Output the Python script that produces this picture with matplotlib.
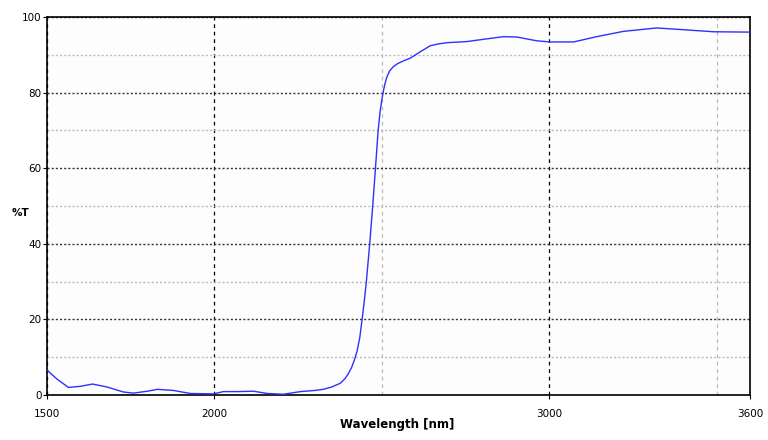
import numpy as np
import matplotlib
matplotlib.use('Agg')
from matplotlib import pyplot as plt

# transmission curve
wavelength = [1500, 1530, 1564, 1600, 1636, 1680, 1728, 1758, 1800, 1830, 1878, 1928,
              1997, 2027, 2070, 2117, 2158, 2206, 2257, 2300, 2325, 2350, 2376, 2390,
              2400, 2410, 2418, 2426, 2434, 2441, 2448, 2454, 2464, 2473, 2481, 2489,
              2495, 2500, 2505, 2510, 2516, 2524, 2535, 2548, 2565, 2585, 2615, 2645,
              2670, 2695, 2754, 2804, 2864, 2904, 2963, 3003, 3073, 3142, 3222, 3321,
              3391, 3490, 3600]
transmission = [6.6, 4.2, 2.0, 2.3, 2.9, 2.1, 0.8, 0.5, 1.0, 1.5, 1.2, 0.4,
                0.3, 0.9, 0.9, 1.0, 0.4, 0.2, 0.9, 1.2, 1.5, 2.1, 3.1, 4.3,
                5.6, 7.3, 9.2, 11.5, 15.0, 19.8, 25.0, 30.0, 40.0, 50.0, 59.8, 69.8,
                75.0, 78.0, 80.5, 82.5, 84.3, 85.8, 86.9, 87.7, 88.4, 89.1, 90.8, 92.4,
                92.9, 93.2, 93.5, 94.1, 94.8, 94.7, 93.7, 93.4, 93.4, 94.8, 96.2, 97.1,
                96.7, 96.1, 96.0]

x_ticks = [1500, 2000, 3000, 3600]
x_minor = [2500, 3500]
y_ticks = [0, 20, 40, 60, 80, 100]
y_minor = [10, 30, 50, 70, 90]

plt.rcParams['font.family'] = ['Liberation Sans Narrow', 'DejaVu Sans']

fig = plt.figure(figsize=(7.68, 4.4), dpi=100)
ax = fig.add_axes([47/768, 1 - 395/440, 703/768, 378/440])
ax.set_facecolor('#fdfdfd')

ax.plot(wavelength, transmission, color='#3030ff', linewidth=1.0, zorder=3)

ax.set_xlim(1500, 3600)
ax.set_ylim(0, 100)
ax.set_xticks(x_ticks)
ax.set_xticks(x_minor, minor=True)
ax.set_yticks(y_ticks)
ax.set_yticks(y_minor, minor=True)

ax.grid(which='major', axis='x', color='black', linestyle=(0, (3, 3)), linewidth=0.9)
ax.grid(which='major', axis='y', color='#333333', linestyle=(0, (1.5, 1.5)), linewidth=1.0)
ax.grid(which='minor', axis='x', color='#bbbbbb', linestyle=(0, (3, 3)), linewidth=0.9)
ax.grid(which='minor', axis='y', color='#bbbbbb', linestyle=(0, (1.5, 1.5)), linewidth=1.0)

ax.tick_params(which='major', length=3, width=0.8, labelsize=7.5, colors='black')
ax.tick_params(which='minor', length=0)
ax.tick_params(axis='x', pad=7)
ax.tick_params(axis='y', pad=1)
for s in ax.spines.values():
    s.set_linewidth(1.2)
    s.set_color('black')

fig.text(397/768, 1 - 424/440, 'Wavelength [nm]', fontsize=8.5, fontweight='bold',
         ha='center', va='center')
fig.text(20/768, 1 - 213/440, '%T', fontsize=7.5, fontweight='bold',
         ha='center', va='center')

fig.savefig('out.png', dpi=100, facecolor='white')
